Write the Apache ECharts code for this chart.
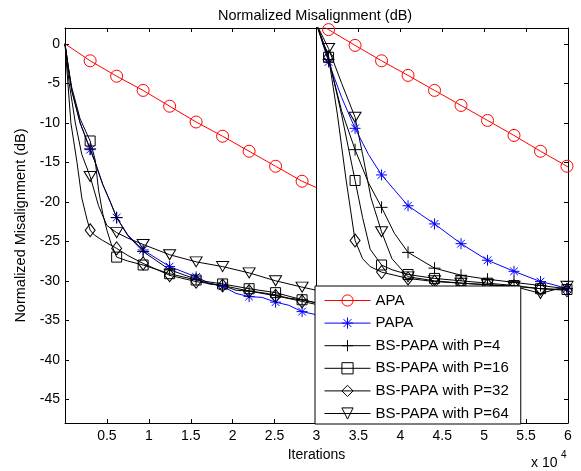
<!DOCTYPE html>
<html>
<head>
    <meta charset="utf-8">
    <title>Normalized Misalignment</title>
    <script src="https://cdn.jsdelivr.net/npm/echarts@6/dist/echarts.min.js"></script>
    <style>
        html, body { margin: 0; padding: 0; background: #fff; }
        #chart { width: 581px; height: 471px; }
    </style>
</head>
<body>
<div id="chart"></div>
<script>
// iterations where markers are drawn (shared by all curves)
var markX = [3000, 6160, 9320, 12480, 15640, 18800, 21960, 25120, 28280,
             31440, 34600, 37760, 40920, 44080, 47240, 50400, 53560, 56720, 59880];

var names = ['APA', 'PAPA', 'BS-PAPA with P=4', 'BS-PAPA with P=16', 'BS-PAPA with P=32', 'BS-PAPA with P=64'];

// APA
var apaX = [0, 3000, 6160, 9320, 12480, 15640, 18800, 21960, 25120, 28280, 30000,
            30000, 31440, 34600, 37760, 40920, 44080, 47240, 50400, 53560, 56720, 59880, 60000];
var apaY = [0, -2.15, -4.1, -5.9, -7.9, -9.9, -11.7, -13.6, -15.5, -17.4, -18.2,
            2.7, 1.8, -0.2, -2.15, -4.0, -5.9, -7.8, -9.7, -11.6, -13.6, -15.5, -15.6];

// PAPA
var papaX = [0, 400, 800, 1800, 3000, 3600, 4500, 5400, 6160, 7500, 9320, 12480, 15640, 17200, 18800, 20400, 21960, 23500, 25120, 26700, 28280, 30000,
             30000, 31440, 33000, 34600, 36200, 37760, 40920, 44080, 47240, 50400, 53560, 56720, 58300, 59880, 60000];
var papaY = [0, -3, -5.9, -10, -13.4, -15, -17.8, -20, -22, -24.2, -26.1, -28.2, -29.5, -30.3, -30.7, -31.6, -32.0, -32.1, -32.7, -33.1, -33.9, -34.3,
             2.5, -2.3, -6.8, -10.7, -14, -16.6, -20.5, -22.8, -25.3, -27.4, -28.8, -30.1, -30.5, -31.0, -31.0];

// BS-PAPA P=4
var p4X = [0, 400, 800, 1800, 3000, 3600, 4500, 5400, 6160, 7500, 9320, 12480, 15640, 17200, 18800, 20400, 21960, 23500, 25120, 26700, 28280, 30000,
           30000, 31440, 33000, 34600, 36200, 37760, 39300, 40920, 44080, 47240, 50400, 53560, 56720, 59880, 60000];
var p4Y = [0, -3, -5.9, -10, -13.3, -15, -17.8, -20, -22, -24.3, -26.3, -28.6, -29.8, -30.4, -30.6, -31.2, -31.3, -31.5, -31.8, -32.2, -32.4, -32.8,
           2.5, -2.0, -8.5, -13.4, -17.6, -20.7, -24, -26.4, -28.4, -29.3, -29.8, -30.2, -30.6, -31.0, -31.0];

// BS-PAPA P=16
var p16X = [0, 400, 800, 1800, 3000, 3600, 4000, 4500, 5000, 5500, 6160, 7500, 9320, 12480, 15640, 18800, 21960, 25120, 28280, 30000,
            30000, 31440, 33000, 34600, 35500, 36400, 37760, 39000, 40920, 44080, 47240, 50400, 53560, 56720, 59880, 60000];
var p16Y = [0, -3, -5.5, -9.5, -12.3, -14.7, -18.5, -21.5, -23.6, -25.3, -27.0, -27.5, -28.0, -29.1, -29.9, -30.4, -31.0, -31.5, -32.4, -32.8,
            2.5, -1.7, -9, -17.3, -22, -26, -28.0, -28.6, -29.2, -29.7, -30.0, -30.3, -30.6, -31.0, -31.1, -31.1];

// BS-PAPA P=32
var p32X = [0, 350, 700, 1430, 2000, 2640, 3000, 3500, 4500, 6160, 7500, 9320, 12480, 15640, 18800, 21960, 25120, 28280, 30000,
            30000, 31440, 32500, 33500, 34600, 35500, 36400, 37760, 40920, 44080, 47240, 50400, 53560, 56720, 59880, 60000];
var p32Y = [0, -5, -10, -15, -19.5, -22.3, -23.6, -24.2, -24.9, -25.9, -26.8, -27.8, -29.3, -30.1, -30.6, -31.3, -31.9, -32.6, -33.0,
            2.5, -1.7, -9, -17, -24.9, -27.2, -28.2, -28.9, -29.7, -30.1, -30.3, -30.5, -30.7, -31.0, -31.2, -31.2];

// BS-PAPA P=64
var p64X = [0, 500, 1230, 2000, 3000, 4000, 5000, 6160, 7500, 9320, 12480, 15640, 18800, 21960, 25120, 28280, 30000,
            30000, 31440, 33000, 34600, 35500, 36500, 37760, 39000, 40920, 44080, 47240, 50400, 53560, 56720, 59880, 60000];
var p64Y = [0, -5, -10, -14, -16.8, -20.5, -23, -23.9, -24.6, -25.4, -26.7, -27.6, -28.2, -29.0, -30.0, -30.8, -31.2,
            2.5, -0.6, -5, -9.3, -14, -19.5, -23.8, -27.2, -29.5, -30.0, -30.3, -30.5, -30.7, -31.6, -30.7, -30.8];

var FONT = 'Liberation Sans, Arial, sans-serif';
var ASTERISK = 'path://M5,0L5,10M0,5L10,5M1.5,1.5L8.5,8.5M8.5,1.5L1.5,8.5';
var PLUS = 'path://M5,0L5,10M0,5L10,5';

function pts(xs, ys) {
    return xs.map(function (x, i) {
        if (markX.indexOf(x) >= 0) return [x, ys[i]];
        return { value: [x, ys[i]], symbol: 'none' };
    });
}

function mkSeries(name, xs, ys, color, symbol, size, rotate) {
    return {
        name: name,
        type: 'line',
        data: pts(xs, ys),
        symbol: symbol,
        symbolSize: size,
        symbolRotate: rotate || 0,
        showSymbol: true,
        showAllSymbol: true,
        clip: true,
        lineStyle: { color: color, width: 1 },
        itemStyle: { color: 'rgba(0,0,0,0)', borderColor: color, borderWidth: 1 },
        emphasis: { disabled: true }
    };
}

var chart = echarts.init(document.getElementById('chart'));

var axisCommon = {
    axisLine: { show: true, onZero: false, lineStyle: { color: '#000', width: 1 } },
    axisTick: { show: true, inside: true, length: 4, lineStyle: { color: '#000' } },
    splitLine: { show: false }
};

function tickY(v) { return (Math.round(v) % 5 === 0 && Math.abs(v - Math.round(v)) < 1e-6) ? String(v) : ''; }

var option = {
    animation: false,
    backgroundColor: '#fff',
    title: {
        text: 'Normalized Misalignment (dB)',
        left: 213, top: 3,
        textStyle: { fontFamily: FONT, fontSize: 14.5, fontWeight: 'normal', color: '#000' }
    },
    grid: { left: 65, right: 13, top: 28, bottom: 48 },
    legend: {
        orient: 'vertical',
        left: 315, top: 286,
        padding: [7, 12, 3, 9],
        itemWidth: 46, itemHeight: 14, itemGap: 7.6,
        backgroundColor: '#fff',
        borderColor: '#000', borderWidth: 1,
        lineStyle: { width: 1 },
        itemStyle: { borderWidth: 1 },
        textStyle: { fontFamily: FONT, fontSize: 15, color: '#000' },
        data: names
    },
    xAxis: [
        Object.assign({
            type: 'value', min: 0, max: 60000, interval: 5000,
            name: 'Iterations', nameLocation: 'middle', nameGap: 25,
            nameTextStyle: { fontFamily: FONT, fontSize: 14, color: '#000' },
            axisLabel: {
                fontFamily: FONT, fontSize: 14, color: '#000', margin: 6,
                formatter: function (v) { return v === 0 ? '' : String(v / 10000); }
            }
        }, axisCommon),
        Object.assign({
            type: 'value', min: 0, max: 60000, interval: 5000, position: 'top',
            axisLabel: { show: false }
        }, axisCommon)
    ],
    yAxis: [
        Object.assign({
            type: 'value', min: -48, max: 2, splitNumber: 10,
            name: 'Normalized Misalignment (dB)', nameLocation: 'middle', nameGap: 36,
            nameTextStyle: { fontFamily: FONT, fontSize: 14.5, color: '#000' },
            axisLabel: { fontFamily: FONT, fontSize: 14, color: '#000', margin: 5, formatter: tickY }
        }, axisCommon),
        Object.assign({
            type: 'value', min: -48, max: 2, splitNumber: 10, position: 'right',
            axisLabel: { show: false }
        }, axisCommon)
    ],
    graphic: [
        { type: 'text', left: 531, top: 456, style: { text: 'x 10', fontFamily: FONT, fontSize: 14, fill: '#000' } },
        { type: 'text', left: 561, top: 450, style: { text: '4', fontFamily: FONT, fontSize: 10, fill: '#000' } }
    ],
    series: [
        mkSeries(names[0], apaX, apaY, '#ff0000', 'circle', 12),
        mkSeries(names[1], papaX, papaY, '#0000ff', ASTERISK, 11),
        mkSeries(names[2], p4X, p4Y, '#000000', PLUS, 12),
        mkSeries(names[3], p16X, p16Y, '#000000', 'rect', 10),
        mkSeries(names[4], p32X, p32Y, '#000000', 'diamond', [10, 13]),
        mkSeries(names[5], p64X, p64Y, '#000000', 'triangle', [12, 10], 180)
    ]
};

chart.setOption(option);
</script>
</body>
</html>
